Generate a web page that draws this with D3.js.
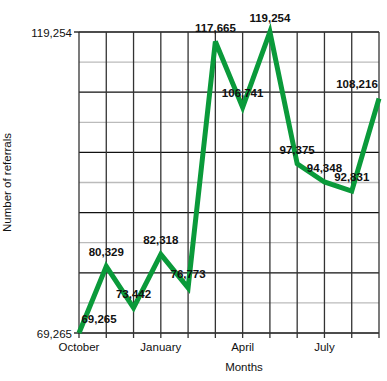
<!DOCTYPE html>
<html><head><meta charset="utf-8">
<script src="https://cdn.jsdelivr.net/npm/d3@7"></script>
<style>body{margin:0;background:#fff;} text{font-family:"Liberation Sans",Arial,sans-serif;}</style>
</head><body><svg id="c" width="387" height="381"></svg>
<script>
const months = ["October","November","December","January","February","March","April","May","June","July","August","September"];
const referrals = [69265,80329,73442,82318,76773,117665,106741,119254,97375,94348,92831,108216];
const xTickLabels = ["October","January","April","July"];
const yTickLabels = [69265,119254];

const svg = d3.select("#c");
const L=79,R=379,T=32,B=333;
const x = d3.scalePoint().domain(months).range([L,R]);
const yMin=d3.min(referrals), yMax=d3.max(referrals);
const y = d3.scaleLinear().domain([yMin,yMax]).range([B,T]);
const fmt = d3.format(",");

// horizontal grid: 10 intervals, major every 2
const step=(yMax-yMin)/10;
for(let i=0;i<=10;i++){
  const v=yMin+i*step;
  svg.append("line").attr("x1",L).attr("x2",R).attr("y1",y(v)).attr("y2",y(v))
    .attr("stroke", i%2===0? "#111":"#bbb").attr("stroke-width",1.3);
}
// vertical grid
months.forEach(m=>{
  svg.append("line").attr("x1",x(m)).attr("x2",x(m)).attr("y1",T).attr("y2",B+5)
    .attr("stroke","#333").attr("stroke-width",1.3);
});
// y ticks
yTickLabels.forEach(v=>{
  svg.append("line").attr("x1",L-5).attr("x2",L).attr("y1",y(v)).attr("y2",y(v)).attr("stroke","#111").attr("stroke-width",1.3);
  svg.append("text").attr("x",L-7).attr("y",y(v)+4.5).attr("text-anchor","end").attr("font-size",11.5).attr("fill","#111").text(fmt(v));
});
// x labels
xTickLabels.forEach(m=>{
  svg.append("text").attr("x",x(m)).attr("y",351).attr("text-anchor","middle").attr("font-size",11.5).attr("fill","#111").text(m);
});
svg.append("text").attr("x",244).attr("y",371).attr("text-anchor","middle").attr("font-size",11.5).attr("fill","#111").text("Months");
svg.append("text").attr("transform","translate(11,"+((T+B)/2)+") rotate(-90)").attr("text-anchor","middle").attr("font-size",11.5).attr("fill","#111").text("Number of referrals");

// line
svg.append("path").datum(referrals).attr("fill","none").attr("stroke","#0a9a3a").attr("stroke-width",5)
  .attr("stroke-linejoin","miter").attr("d",d3.line().x((d,i)=>x(months[i])).y(d=>y(d)));

// data labels
referrals.forEach((v,i)=>{
  let dx=0;
  if(i===0) dx=20;
  if(i===referrals.length-1) dx=-22;
  svg.append("text").attr("x",x(months[i])+dx).attr("y",y(v)-10).attr("text-anchor","middle")
    .attr("font-size",11.5).attr("font-weight","bold").attr("fill","#111").text(fmt(v));
});
</script></body></html>
